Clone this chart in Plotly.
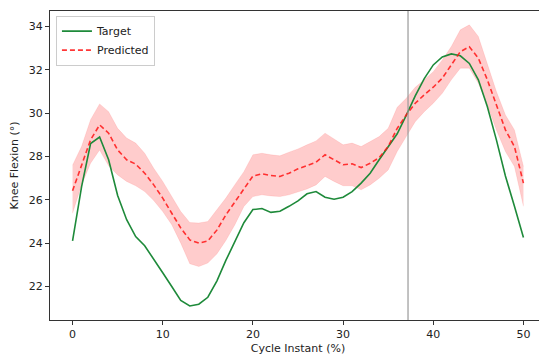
import plotly.graph_objects as go

x = list(range(51))
target = [24.1, 26.6, 28.6, 28.9, 27.85, 26.2, 25.08, 24.3, 23.88, 23.23,
          22.63, 22.0, 21.35, 21.1, 21.18, 21.5, 22.25, 23.2, 24.1, 24.94,
          25.55, 25.6, 25.42, 25.47, 25.7, 25.95, 26.28, 26.38, 26.12, 26.03,
          26.12, 26.38, 26.77, 27.23, 27.85, 28.46, 29.05, 29.9, 30.8, 31.6,
          32.23, 32.6, 32.74, 32.65, 32.3, 31.54, 30.3, 28.77, 27.1, 25.7, 24.26]
predicted = [26.42, 27.6, 28.77, 29.46, 29.08, 28.3, 27.85, 27.65, 27.23, 26.69,
             26.08, 25.38, 24.7, 24.15, 24.0, 24.1, 24.6, 25.3, 25.92, 26.54,
             27.1, 27.2, 27.12, 27.08, 27.23, 27.43, 27.58, 27.74, 28.08, 27.85,
             27.62, 27.66, 27.49, 27.69, 27.95, 28.46, 29.3, 29.92, 30.46, 30.85,
             31.2, 31.62, 32.23, 32.84, 33.07, 32.54, 31.54, 30.38, 29.23, 28.46, 26.77]
upper = [27.6, 28.46, 29.7, 30.43, 30.07, 29.3, 28.85, 28.62, 28.15, 27.46,
         26.85, 26.15, 25.46, 24.95, 24.93, 25.0, 25.54, 26.08, 26.7, 27.3,
         28.08, 28.15, 28.08, 28.03, 28.2, 28.35, 28.54, 28.72, 29.08, 28.8,
         28.54, 28.62, 28.46, 28.69, 28.92, 29.3, 30.27, 30.69, 31.2, 31.54,
         31.92, 32.46, 33.08, 33.85, 34.08, 33.54, 32.23, 31.0, 29.92, 29.23, 27.54]
lower = [25.38, 26.69, 27.69, 28.3, 27.57, 27.15, 26.85, 26.65, 26.38, 25.97,
         25.46, 24.85, 24.0, 23.05, 22.92, 23.08, 23.5, 24.12, 24.85, 25.69,
         26.15, 26.23, 26.18, 26.15, 26.23, 26.35, 26.5, 26.69, 27.08, 26.85,
         26.65, 26.65, 26.46, 26.69, 27.0, 27.38, 28.23, 28.92, 29.61, 30.07,
         30.46, 30.92, 31.54, 32.08, 32.08, 31.38, 30.38, 29.23, 28.23, 27.54, 25.7]
marker_x = 37.2
x_ticks = [0, 10, 20, 30, 40, 50]
y_ticks = [22, 24, 26, 28, 30, 32, 34]

fig = go.Figure()
fig.add_trace(go.Scatter(x=x, y=lower, mode="lines", line=dict(width=0.6, color="rgba(255,0,0,0.15)"),
                         showlegend=False, hoverinfo="skip"))
fig.add_trace(go.Scatter(x=x, y=upper, mode="lines", line=dict(width=0.6, color="rgba(255,0,0,0.15)"),
                         fill="tonexty", fillcolor="rgba(255,0,0,0.2)", showlegend=False, hoverinfo="skip"))
fig.add_trace(go.Scatter(x=x, y=target, mode="lines", name="Target",
                         line=dict(color="#1e8a3a", width=1.6)))
fig.add_trace(go.Scatter(x=x, y=predicted, mode="lines", name="Predicted",
                         line=dict(color="rgba(255,20,20,0.85)", width=1.6, dash="5px,3px")))
fig.add_vline(x=marker_x, line=dict(color="#999999", width=1.2))

axis_common = dict(showgrid=False, zeroline=False, showline=True, linecolor="#333333", linewidth=1,
                   mirror=True, ticks="outside", ticklen=4, tickcolor="#333333", automargin=False,
                   tickfont=dict(family="DejaVu Sans", size=11, color="#222222"))
fig.update_xaxes(range=[-2.5, 52.5], tickvals=x_ticks, title=dict(text="Cycle Instant (%)",
                 font=dict(family="DejaVu Sans", size=11, color="#222222")), **axis_common)
fig.update_yaxes(range=[20.45, 34.72], tickvals=y_ticks, title=dict(text="Knee Flexion (°)",
                 font=dict(family="DejaVu Sans", size=11, color="#222222")), **axis_common)
fig.update_layout(
    width=539, height=347,
    margin=dict(l=42, r=1, t=3, b=35),
    plot_bgcolor="white", paper_bgcolor="white",
    font=dict(family="DejaVu Sans", size=11, color="#222222"),
    legend=dict(x=0.012, y=0.985, xanchor="left", yanchor="top", bgcolor="rgba(255,255,255,0.9)",
                bordercolor="#cccccc", borderwidth=1, font=dict(size=11), tracegroupgap=0,
                itemwidth=30, traceorder="normal"),
)
fig.write_html("out.html")
